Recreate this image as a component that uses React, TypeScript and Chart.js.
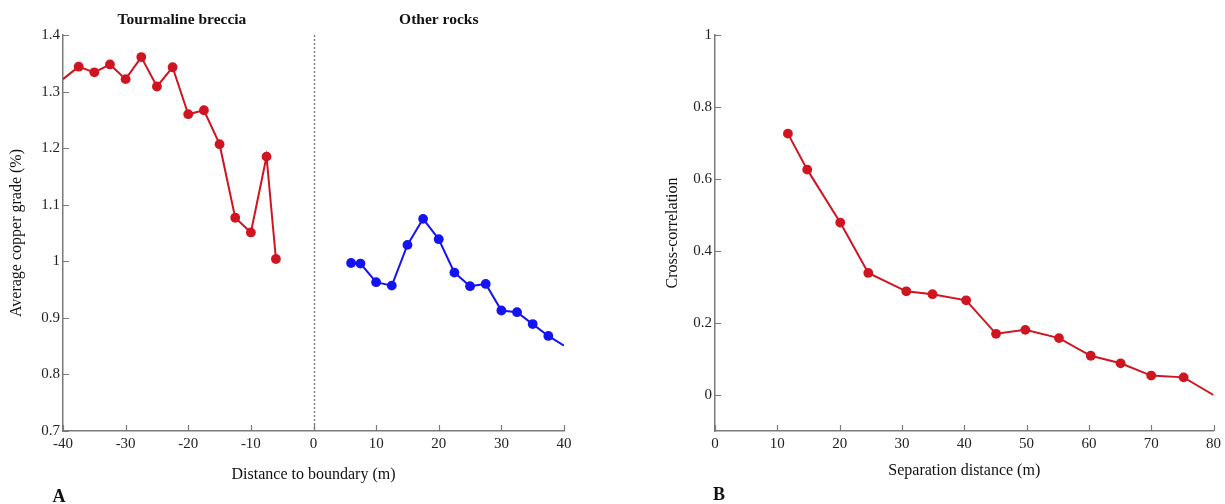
import React, { useEffect, useRef } from "react";
import { Chart, registerables } from "chart.js";

Chart.register(...registerables);

// Panel A: average copper grade vs distance to the breccia boundary
const tbDistance = [-40, -37.5, -35, -32.5, -30, -27.5, -25, -22.5, -20, -17.5, -15, -12.5, -10, -7.5, -6];
const tbGrade = [1.322, 1.344, 1.334, 1.348, 1.322, 1.361, 1.309, 1.343, 1.26, 1.267, 1.207, 1.077, 1.051, 1.185, 1.004];
const otherDistance = [6, 7.5, 10, 12.5, 15, 17.5, 20, 22.5, 25, 27.5, 30, 32.5, 35, 37.5, 40];
const otherGrade = [0.997, 0.996, 0.963, 0.957, 1.029, 1.075, 1.039, 0.98, 0.956, 0.96, 0.913, 0.91, 0.889, 0.868, 0.851];
const gradeTicks = [0.7, 0.8, 0.9, 1.0, 1.1, 1.2, 1.3, 1.4];
const distanceTicks = [-40, -30, -20, -10, 0, 10, 20, 30, 40];

// Panel B: cross-correlation vs separation distance
const separation = [11.7, 14.8, 20.1, 24.6, 30.7, 34.9, 40.3, 45.1, 49.8, 55.2, 60.3, 65.1, 70.0, 75.2, 80];
const crossCorr = [0.726, 0.626, 0.479, 0.339, 0.288, 0.28, 0.263, 0.17, 0.181, 0.158, 0.109, 0.088, 0.054, 0.049, 0.0];
const corrTicks = [0, 0.2, 0.4, 0.6, 0.8, 1];
const separationTicks = [0, 10, 20, 30, 40, 50, 60, 70, 80];

const RED = "#CF1520";
const BLUE = "#1414F0";
const AXIS = "#7a7a7a";
const SERIF = "'Liberation Serif', 'Times New Roman', serif";

const toPoints = (xs: number[], ys: number[]) => xs.map((x, i) => ({ x, y: ys[i] }));
// line runs to the plot edge where the first/last entry carries no marker
const radii = (n: number, hidden: number[]) =>
  Array.from({ length: n }, (_, i) => (hidden.includes(i) ? 0 : 4.9));
const fmt = (v: number) => String(Number(v.toFixed(2)));

type Label = { text: string; x: number; y: number; font: string; dataX?: boolean };

function makeOverlay(labels: Label[], dashedAt: number | null) {
  return {
    id: "overlay",
    afterDraw(chart: any) {
      const { ctx, chartArea } = chart;
      const xs = chart.scales.x;
      const ys = chart.scales.y;
      ctx.save();
      // inward tick marks
      ctx.strokeStyle = AXIS;
      ctx.lineWidth = 1.2;
      ctx.beginPath();
      xs.ticks.forEach((t: any) => {
        const px = Math.round(xs.getPixelForValue(t.value)) + 0.5;
        ctx.moveTo(px, chartArea.bottom);
        ctx.lineTo(px, chartArea.bottom - 6);
      });
      ys.ticks.forEach((t: any) => {
        const py = Math.round(ys.getPixelForValue(t.value)) + 0.5;
        ctx.moveTo(chartArea.left, py);
        ctx.lineTo(chartArea.left + 6, py);
      });
      ctx.stroke();
      // boundary line
      if (dashedAt !== null) {
        const px = Math.round(xs.getPixelForValue(dashedAt)) + 0.5;
        ctx.strokeStyle = "#777";
        ctx.lineWidth = 1.4;
        ctx.setLineDash([2, 2]);
        ctx.beginPath();
        ctx.moveTo(px, chartArea.top);
        ctx.lineTo(px, chartArea.bottom);
        ctx.stroke();
        ctx.setLineDash([]);
      }
      // headings and panel letter
      ctx.fillStyle = "#111";
      ctx.textAlign = "center";
      ctx.textBaseline = "middle";
      labels.forEach((l) => {
        ctx.font = l.font;
        const px = l.dataX ? xs.getPixelForValue(l.x) : l.x;
        ctx.fillText(l.text, px, l.y);
      });
      ctx.restore();
    },
  };
}

type PanelProps = {
  width: number;
  left: number;
  datasets: any[];
  xMin: number;
  xMax: number;
  xTicks: number[];
  yMin: number;
  yMax: number;
  yTicks: number[];
  xTitle: string;
  yTitle: string;
  yAxisWidth: number;
  rightPad: number;
  yTitlePad: number;
  xTitlePad: number;
  labels: Label[];
  dashedAt: number | null;
};

function Panel(p: PanelProps) {
  const ref = useRef<HTMLCanvasElement>(null);
  useEffect(() => {
    if (!ref.current) return;
    const tickFont = { family: SERIF, size: 15 };
    const titleFont = { family: SERIF, size: 16 };
    const chart = new Chart(ref.current, {
      type: "scatter",
      data: { datasets: p.datasets },
      options: {
        responsive: false,
        animation: false,
        events: [],
        layout: { padding: { left: 0, top: 35, right: p.rightPad, bottom: 0 } },
        plugins: { legend: { display: false }, tooltip: { enabled: false } },
        scales: {
          x: {
            type: "linear",
            min: p.xMin,
            max: p.xMax,
            grid: { display: false, drawTicks: false },
            border: { display: true, color: AXIS, width: 1.5 },
            afterBuildTicks: (s: any) => {
              s.ticks = p.xTicks.map((v) => ({ value: v }));
            },
            afterFit: (s: any) => {
              s.height = 73;
            },
            ticks: { font: tickFont, color: "#222", padding: 4, callback: (v: any) => fmt(Number(v)) },
            title: { display: true, text: p.xTitle, font: titleFont, color: "#111", padding: { bottom: p.xTitlePad } },
          },
          y: {
            type: "linear",
            min: p.yMin,
            max: p.yMax,
            grid: { display: false, drawTicks: false },
            border: { display: true, color: AXIS, width: 1.5 },
            afterBuildTicks: (s: any) => {
              s.ticks = p.yTicks.map((v) => ({ value: v }));
            },
            afterFit: (s: any) => {
              s.width = p.yAxisWidth;
            },
            ticks: { font: tickFont, color: "#222", padding: 3, callback: (v: any) => fmt(Number(v)) },
            title: { display: true, text: p.yTitle, font: titleFont, color: "#111", padding: { top: p.yTitlePad } },
          },
        },
      },
      plugins: [makeOverlay(p.labels, p.dashedAt)],
    } as any);
    return () => chart.destroy();
  }, []);
  return (
    <canvas
      ref={ref}
      width={p.width}
      height={504}
      style={{ position: "absolute", left: p.left, top: 0, width: p.width, height: 504 }}
    />
  );
}

const series = (data: { x: number; y: number }[], color: string, r: number[]) => ({
  data,
  showLine: true,
  borderColor: color,
  backgroundColor: color,
  borderWidth: 2,
  pointRadius: r,
  pointBorderWidth: 0,
  pointBackgroundColor: color,
  clip: 0,
});

export default function App() {
  return (
    <div style={{ position: "absolute", left: 0, top: 0, width: 1225, height: 504, background: "#fff", overflow: "hidden" }}>
      <Panel
        width={620}
        left={0}
        datasets={[
          series(toPoints(tbDistance, tbGrade), RED, radii(tbDistance.length, [0])),
          series(toPoints(otherDistance, otherGrade), BLUE, radii(otherDistance.length, [otherDistance.length - 1])),
        ]}
        xMin={-40}
        xMax={40}
        xTicks={distanceTicks}
        yMin={0.7}
        yMax={1.4}
        yTicks={gradeTicks}
        xTitle="Distance to boundary (m)"
        yTitle="Average copper grade (%)"
        yAxisWidth={63}
        rightPad={56}
        yTitlePad={7.4}
        xTitlePad={19.4}
        dashedAt={0}
        labels={[
          { text: "Tourmaline breccia", x: -21, y: 20, font: `bold 15.5px ${SERIF}`, dataX: true },
          { text: "Other rocks", x: 20, y: 20, font: `bold 15.5px ${SERIF}`, dataX: true },
          { text: "A", x: 59, y: 497, font: `bold 18px ${SERIF}` },
        ]}
      />
      <Panel
        width={605}
        left={620}
        datasets={[series(toPoints(separation, crossCorr), RED, radii(separation.length, [separation.length - 1]))]}
        xMin={0}
        xMax={80}
        xTicks={separationTicks}
        yMin={-0.1}
        yMax={1}
        yTicks={corrTicks}
        xTitle="Separation distance (m)"
        yTitle="Cross-correlation"
        yAxisWidth={95}
        rightPad={10}
        yTitlePad={43.4}
        xTitlePad={23.4}
        dashedAt={null}
        labels={[{ text: "B", x: 99, y: 495, font: `bold 18px ${SERIF}` }]}
      />
    </div>
  );
}
